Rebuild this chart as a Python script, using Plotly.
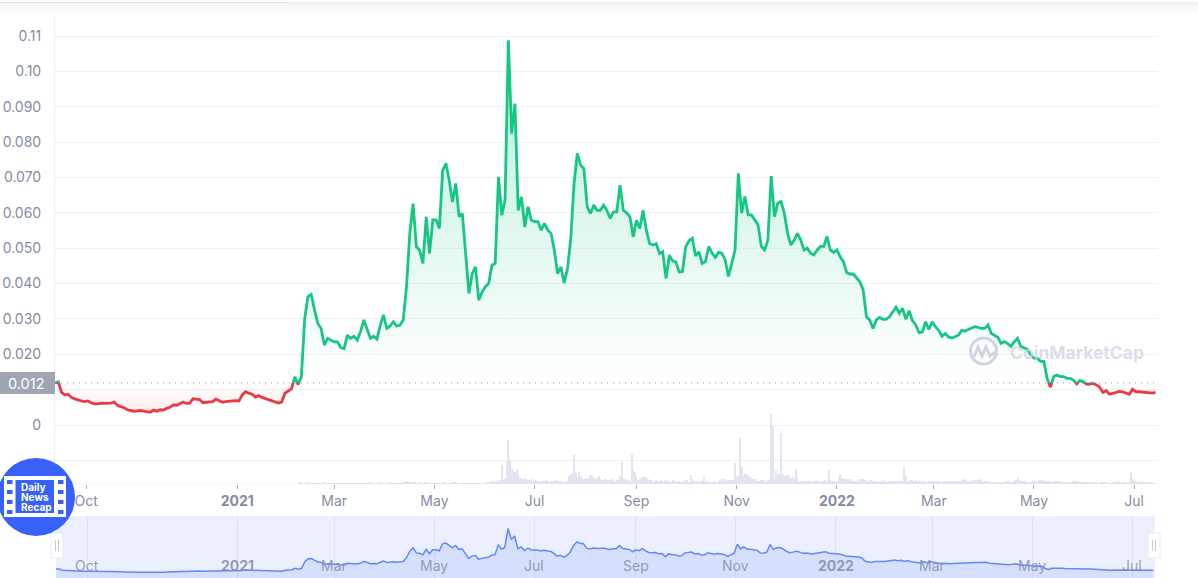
import pandas as pd
import plotly.graph_objects as go

W = 1198
H = 578

# price, one value every 2 days from 2020-09-12
price_start = "2020-09-12"
price = [
    .0119, .0122, .0092, .0085, .0087, .0078, .0074, .0070, .0068, .0066,
    .0068, .0063, .0060, .0060, .0062, .0061, .0061, .0062, .0065, .0056,
    .0052, .0049, .0043, .0040, .0039, .0040, .0041, .0039, .0037, .0036,
    .0042, .0039, .0043, .0042, .0047, .0050, .0057, .0056, .0060, .0065,
    .0061, .0062, .0074, .0073, .0072, .0063, .0064, .0065, .0066, .0073,
    .0068, .0064, .0066, .0066, .0068, .0069, .0068, .0085, .0094, .0090,
    .0087, .0079, .0083, .0078, .0075, .0072, .0068, .0067, .0062, .0065,
    .0090, .0096, .0103, .0136, .0115, .0136, .0300, .0363, .0369, .0325,
    .0287, .0273, .0226, .0245, .0240, .0235, .0235, .0219, .0216, .0254,
    .0245, .0251, .0240, .0264, .0297, .0273, .0245, .0251, .0243, .0282,
    .0311, .0273, .0280, .0292, .0280, .0282, .0297, .0391, .0542, .0626,
    .0504, .0494, .0457, .0589, .0485, .0580, .0580, .0556, .0720, .0740,
    .0692, .0631, .0683, .0589, .0598, .0485, .0372, .0428, .0447, .0353,
    .0376, .0391, .0400, .0452, .0457, .0702, .0593, .0636, .1088, .0824,
    .0909, .0607, .0645, .0560, .0617, .0579, .0575, .0575, .0551, .0570,
    .0551, .0542, .0494, .0428, .0447, .0402, .0442, .0527, .0683, .0768,
    .0735, .0725, .0617, .0598, .0622, .0607, .0607, .0622, .0607, .0584,
    .0603, .0603, .0678, .0607, .0600, .0589, .0532, .0579, .0556, .0607,
    .0551, .0513, .0509, .0513, .0485, .0490, .0414, .0480, .0464, .0461,
    .0433, .0434, .0505, .0521, .0528, .0478, .0490, .0457, .0462, .0505,
    .0486, .0474, .0488, .0486, .0467, .0420, .0457, .0495, .0712, .0599,
    .0646, .0594, .0594, .0580, .0566, .0505, .0495, .0523, .0704, .0589,
    .0627, .0632, .0599, .0542, .0509, .0523, .0542, .0523, .0495, .0500,
    .0486, .0481, .0495, .0505, .0505, .0533, .0495, .0488, .0495, .0476,
    .0462, .0431, .0427, .0427, .0415, .0405, .0382, .0306, .0297, .0273,
    .0297, .0304, .0299, .0299, .0306, .0320, .0333, .0316, .0330, .0299,
    .0323, .0295, .0283, .0261, .0263, .0292, .0270, .0292, .0278, .0268,
    .0251, .0259, .0249, .0246, .0249, .0254, .0268, .0265, .0270, .0273,
    .0278, .0276, .0273, .0273, .0283, .0259, .0254, .0248, .0231, .0236,
    .0230, .0222, .0236, .0245, .0222, .0217, .0214, .0198, .0189, .0189,
    .0180, .0180, .0132, .0107, .0137, .0141, .0137, .0137, .0132, .0132,
    .0127, .0116, .0126, .0122, .0116, .0116, .0118, .0113, .0107, .0092,
    .0097, .0087, .0090, .0094, .0095, .0094, .0090, .0087, .0101, .0094,
    .0094, .0093, .0092, .0090, .0090, .0092,
]
base_price = 0.0119

# daily volume (relative units), from 2021-02-08 on; earlier bars are too small to see
volume_start = "2021-02-08"
volume = [
    2, 1, 1, 1, 1, 2, 1, 1, 1, 1, 1, 1, 1, 1, 1, 2, 1, 1, 1, 1,
    1, 1, 1, 1, 1, 1, 1, 1, 1, 1, 1, 1, 1, 1, 1, 1, 1, 1, 1, 1,
    1, 1, 2, 1, 1, 1, 1, 1, 1, 2, 1, 1, 1, 1, 1, 2, 1, 1, 1, 1,
    1, 1, 1, 2, 2, 3, 3, 2, 2, 2, 2, 1, 1, 2, 1, 1, 2, 2, 1, 1,
    1, 1, 1, 1, 1, 1, 1, 2, 2, 1, 1, 1, 1, 2, 2, 2, 1, 1, 1, 1,
    1, 1, 1, 1, 1, 1, 1, 1, 1, 1, 1, 1, 1, 1, 2, 2, 2, 3, 3, 2,
    3, 3, 4, 19, 4, 5, 22, 44, 24, 16, 13, 12, 15, 10, 6, 6, 5, 6, 5, 4,
    4, 5, 3, 3, 4, 3, 2, 3, 3, 3, 4, 3, 2, 3, 3, 3, 4, 3, 3, 3,
    2, 2, 3, 3, 8, 10, 10, 29, 11, 7, 12, 8, 5, 5, 6, 5, 6, 9, 9, 6,
    5, 6, 8, 5, 4, 4, 5, 4, 4, 4, 5, 4, 3, 4, 4, 8, 22, 6, 5, 4,
    4, 3, 30, 14, 12, 7, 4, 5, 6, 7, 7, 6, 5, 4, 4, 3, 3, 4, 3, 3,
    4, 2, 3, 4, 3, 3, 2, 4, 3, 3, 2, 3, 2, 2, 3, 4, 4, 2, 9, 5,
    3, 3, 3, 2, 3, 3, 7, 3, 3, 2, 2, 2, 3, 2, 2, 3, 4, 5, 5, 4,
    3, 4, 4, 4, 4, 21, 7, 8, 46, 17, 8, 10, 10, 8, 7, 6, 5, 5, 3, 3,
    3, 4, 4, 3, 3, 4, 5, 70, 58, 6, 14, 9, 10, 51, 10, 8, 9, 8, 9, 6,
    7, 5, 15, 7, 3, 3, 3, 3, 3, 3, 3, 3, 2, 3, 4, 3, 3, 2, 3, 3,
    4, 3, 14, 4, 3, 3, 2, 3, 6, 10, 6, 5, 5, 5, 5, 5, 3, 3, 3, 3,
    3, 5, 5, 5, 4, 3, 3, 3, 4, 3, 3, 3, 2, 3, 3, 3, 4, 2, 2, 3,
    3, 3, 3, 3, 3, 3, 3, 3, 16, 8, 3, 3, 4, 4, 3, 4, 3, 3, 3, 3,
    3, 2, 2, 3, 2, 3, 3, 3, 3, 3, 2, 2, 3, 3, 3, 3, 3, 3, 3, 3,
    3, 3, 3, 4, 4, 5, 3, 3, 3, 4, 3, 4, 4, 4, 4, 5, 3, 3, 3, 3,
    2, 2, 2, 2, 2, 2, 2, 2, 2, 2, 3, 3, 3, 2, 2, 3, 4, 6, 4, 3,
    3, 3, 3, 2, 2, 2, 3, 3, 3, 3, 4, 4, 4, 3, 3, 3, 3, 3, 2, 3,
    3, 3, 3, 3, 2, 2, 2, 2, 2, 2, 2, 3, 3, 3, 2, 2, 2, 2, 2, 2,
    2, 2, 2, 2, 2, 2, 1, 1, 2, 2, 2, 2, 1, 1, 1, 2, 2, 2, 3, 2,
    1, 2, 2, 1, 2, 2, 12, 5, 3, 3, 2, 2, 2, 2, 2, 2, 2, 2, 1, 2, 1,
]

y_ticks = [-0.01, 0, 0.01, 0.02, 0.03, 0.04, 0.05, 0.06, 0.07, 0.08, 0.09, 0.10, 0.11]
y_labels = ["", "0", "", "0.020", "0.030", "0.040", "0.050", "0.060", "0.070", "0.080", "0.090", "0.10", "0.11"]
x_ticks = ["2020-10-01", "2021-01-01", "2021-03-01", "2021-05-01", "2021-07-01", "2021-09-01",
           "2021-11-01", "2022-01-01", "2022-03-01", "2022-05-01", "2022-07-01"]
x_labels = ["Oct", "<b>2021</b>", "Mar", "May", "Jul", "Sep", "Nov", "<b>2022</b>", "Mar", "May", "Jul"]

GREEN = "#16c784"
RED = "#ea3943"
GREY = "#858ca2"
GRID = "#eff2f5"
BLUE = "#3861fb"
FONT = "Inter"

dates = pd.date_range(price_start, periods=len(price), freq="2D")
volume_dates = pd.date_range(volume_start, periods=len(volume), freq="D")
base_line = [base_price] * len(price)


# pixel helpers for the decoration, everything else goes through the axes
def px(x):
    return x / W


def py(y):
    return 1 - y / H


def pixel_rect(x0, y0, x1, y1, **kw):
    return dict(type="rect", xref="paper", yref="paper", x0=px(x0), x1=px(x1), y0=py(y0), y1=py(y1), **kw)


def label(x, y, text, **kw):
    color = kw.pop("color", GREY)
    size = kw.pop("size", 14)
    return dict(xref="paper", yref="paper", x=px(x), y=py(y), text=text, showarrow=False,
                font=dict(family=FONT, size=size, color=color), **kw)


# value at pixel row y in the main chart: 0.11 sits at 36 and 0 at 425
def value_at(y):
    return (425 - y) / 3536


base_row = 425 - base_price * 3536

fig = go.Figure()

# main grid only, empty trace to bring the subplot up
fig.add_trace(go.Scatter(x=dates, y=base_line, mode="lines", line=dict(width=0), xaxis="x", yaxis="y"))

# green part sits on an axis that stops at the base price, red on one that starts there
fig.add_trace(go.Scatter(x=dates, y=base_line, mode="lines", line=dict(width=0), xaxis="x", yaxis="y2"))
fig.add_trace(go.Scatter(
    x=dates, y=price, mode="lines", xaxis="x", yaxis="y2",
    line=dict(color=GREEN, width=2.8),
    fill="tonexty",
    fillgradient=dict(type="vertical", start=base_price, stop=max(price),
                      colorscale=[[0, "rgba(22,199,132,0)"], [1, "rgba(22,199,132,0.3)"]]),
))
fig.add_trace(go.Scatter(x=dates, y=base_line, mode="lines", line=dict(width=0), xaxis="x", yaxis="y3"))
fig.add_trace(go.Scatter(
    x=dates, y=price, mode="lines", xaxis="x", yaxis="y3",
    line=dict(color=RED, width=2.8),
    fill="tonexty",
    fillgradient=dict(type="vertical", start=min(price), stop=base_price,
                      colorscale=[[0, "rgba(234,57,67,0.1)"], [1, "rgba(234,57,67,0)"]]),
))

# volume
fig.add_trace(go.Bar(x=volume_dates, y=volume, xaxis="x", yaxis="y4", marker=dict(color="#e2e5ef", line_width=0),
                     width=86400000 * 0.6))

# navigator
nav_floor = [-0.0096] * len(price)
fig.add_trace(go.Scatter(x=dates, y=nav_floor, mode="lines", line=dict(width=0), xaxis="x2", yaxis="y5"))
fig.add_trace(go.Scatter(x=dates, y=price, mode="lines", xaxis="x2", yaxis="y5",
                         line=dict(color="#6188ff", width=1.5),
                         fill="tonexty", fillcolor="rgba(97,136,255,0.15)"))

shapes = []

# soft shadow under the page header
for i, c in enumerate(["#f4f5f8", "#f6f7f9", "#f8f9fa", "#fafafb", "#fcfcfd", "#fdfdfe"]):
    shapes.append(pixel_rect(0, 3 + i * 2, W, 5 + i * 2, fillcolor=c, line_width=0, layer="below"))
shapes.append(pixel_rect(0, 2, 290, 3, fillcolor="#dbe1ee", line_width=0, layer="below"))
shapes.append(pixel_rect(290, 2, W, 3, fillcolor="#eef0f4", line_width=0, layer="below"))

# dotted base price and dotted chart floor
shapes.append(dict(type="line", xref="x", yref="y", x0=dates[0], x1="2022-07-15 12:00", y0=base_price, y1=base_price,
                   line=dict(color="#8f96a8", width=1, dash="1px,5px")))
shapes.append(dict(type="line", xref="x", yref="y", x0=dates[0], x1="2022-07-15 12:00",
                   y0=value_at(484), y1=value_at(484),
                   line=dict(color="#c9cede", width=1, dash="1px,2px")))

# price tag on the axis
shapes.append(pixel_rect(0, 372, 55, 394, fillcolor="#a0a5b3", line_width=0))

# navigator background
shapes.append(pixel_rect(56, 516, 1155, 578, fillcolor="#ecf0fe", line_width=0, layer="below"))

# navigator handles
for hx in [57, 1154]:
    shapes.append(pixel_rect(hx - 6, 533, hx + 6, 558, fillcolor="white", line=dict(color="#e6e9f4", width=1)))
    shapes.append(pixel_rect(hx - 2, 540, hx - 1, 551, fillcolor="#c3c9d9", line_width=0))
    shapes.append(pixel_rect(hx + 1, 540, hx + 2, 551, fillcolor="#c3c9d9", line_width=0))

# CoinMarketCap logo
shapes.append(dict(type="circle", xref="paper", yref="paper", x0=px(970.5), x1=px(996.5), y0=py(364), y1=py(338),
                   line=dict(color="#cfd4e2", width=3), fillcolor="rgba(0,0,0,0)"))
mark = [(974, 357), (978, 347), (982, 356), (986, 347), (990, 356), (995, 352)]
shapes.append(dict(type="path", xref="paper", yref="paper",
                   path="M " + " L ".join(f"{px(a):.5f} {py(b):.5f}" for a, b in mark),
                   line=dict(color="#cfd4e2", width=3)))

# news badge
shapes.append(dict(type="circle", xref="paper", yref="paper", x0=px(-3), x1=px(75), y0=py(536), y1=py(458),
                   fillcolor=BLUE, line_width=0))
shapes.append(pixel_rect(4, 476, 66, 517, fillcolor="white", line_width=0))
shapes.append(pixel_rect(15.5, 480, 54, 513, fillcolor=BLUE, line_width=0))
for hole_y in [482, 492, 502, 512]:
    shapes.append(pixel_rect(7, hole_y - 2, 12.5, hole_y + 2, fillcolor=BLUE, line_width=0))
    shapes.append(pixel_rect(58, hole_y - 2, 63.5, hole_y + 2, fillcolor=BLUE, line_width=0))

annotations = [
    label(6, 383, "0.012", color="white", size=14.5, xanchor="left", yanchor="middle"),
    label(1008, 352, "<b>CoinMarketCap</b>", color="rgba(206,212,226,0.75)", size=17.5, xanchor="left", yanchor="middle"),
    label(19, 487, "<b>Daily</b>", color="white", size=10, xanchor="left", yanchor="middle"),
    label(19, 497, "<b>News</b>", color="white", size=10, xanchor="left", yanchor="middle"),
    label(19, 507, "<b>Recap</b>", color="white", size=10, xanchor="left", yanchor="middle"),
]
for tick, text in zip(x_ticks, x_labels):
    annotations.append(dict(xref="x2", yref="paper", x=tick, y=py(565), text=text, showarrow=False,
                            yanchor="middle", font=dict(family=FONT, size=14, color="rgba(133,140,162,0.85)")))

fig.update_layout(
    width=W,
    height=H,
    autosize=False,
    margin=dict(l=0, r=0, t=0, b=0),
    paper_bgcolor="white",
    plot_bgcolor="rgba(0,0,0,0)",
    showlegend=False,
    hovermode=False,
    font=dict(family=FONT, color=GREY),
    shapes=shapes,
    annotations=annotations,
    xaxis=dict(
        domain=[px(55), px(1158)],
        range=["2020-09-12", "2022-07-15 12:00"],
        anchor="y",
        type="date",
        tickmode="array",
        tickvals=x_ticks,
        ticktext=x_labels,
        ticks="outside",
        ticklen=4,
        tickcolor="#a6acbd",
        tickfont=dict(family=FONT, size=14, color=GREY),
        showgrid=False,
        showline=False,
        zeroline=False,
    ),
    xaxis2=dict(
        domain=[px(56), px(1155)],
        range=["2020-09-12", "2022-07-15"],
        anchor="y5",
        type="date",
        tickmode="array",
        tickvals=x_ticks,
        showticklabels=False,
        ticks="",
        showgrid=True,
        gridcolor="#dde3f4",
        showline=False,
        zeroline=False,
    ),
    yaxis=dict(
        domain=[py(484), py(15)],
        range=[value_at(484), value_at(15)],
        anchor="x",
        tickmode="array",
        tickvals=y_ticks,
        ticktext=y_labels,
        tickfont=dict(family=FONT, size=14, color=GREY),
        ticks="",
        ticklabelstandoff=10,
        gridcolor=GRID,
        gridwidth=1,
        showline=True,
        linecolor=GRID,
        zeroline=False,
    ),
    yaxis2=dict(domain=[py(base_row), py(15)], range=[base_price, value_at(15)], anchor="x", visible=False),
    yaxis3=dict(domain=[py(484), py(base_row)], range=[value_at(484), base_price], anchor="x", visible=False),
    yaxis4=dict(domain=[py(484), py(414)], range=[0, 70], anchor="x", visible=False),
    yaxis5=dict(domain=[0, py(516)], range=[-0.0096, 0.1387], anchor="x2", visible=False),
)

fig.write_html("out.html", config=dict(displayModeBar=False),
               post_script="document.body.style.margin='0';document.body.style.overflow='hidden';")
